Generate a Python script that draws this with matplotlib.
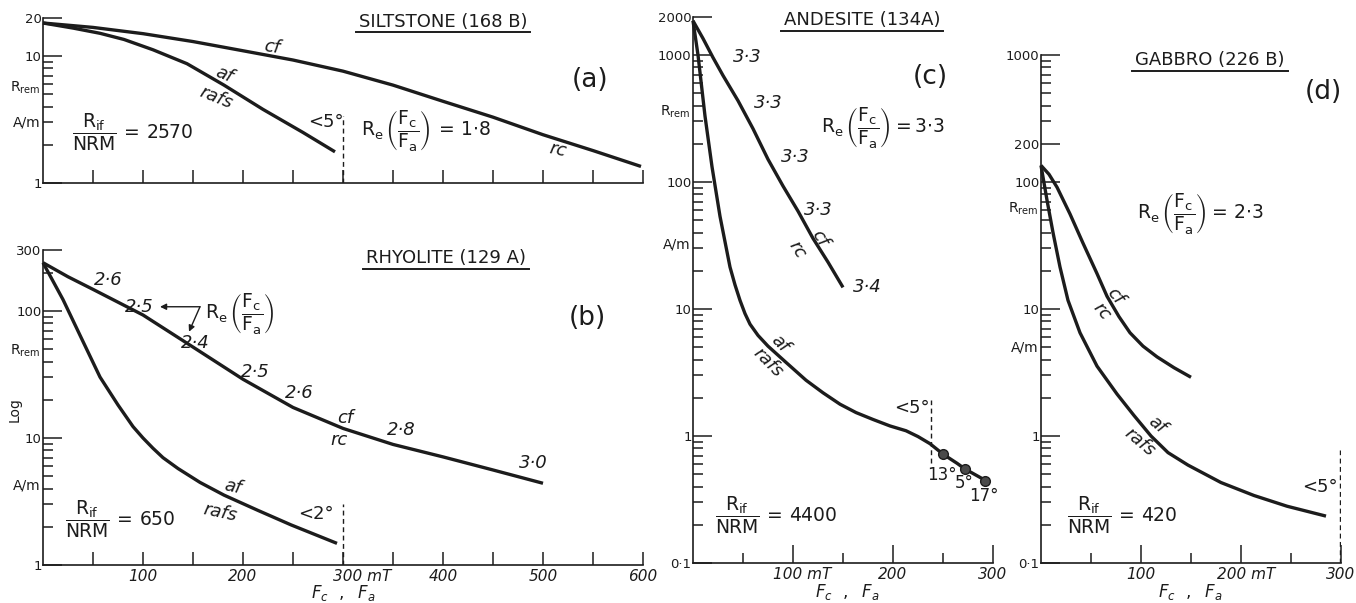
import matplotlib
matplotlib.use('Agg')
import matplotlib.pyplot as plt
import matplotlib.transforms as mtransforms
from matplotlib.lines import Line2D
from matplotlib.ticker import NullFormatter

plt.rcParams['font.family'] = ['DejaVu Sans']
plt.rcParams['mathtext.fontset'] = 'dejavusans'

INK = '#1c1c1c'
W, H, DPI = 1356, 603, 100

# ---------------- data ----------------
# Panel (a) SILTSTONE (168 B)
a_cf_x = [0, 50, 100, 150, 200, 250, 300, 350, 400, 450, 500, 550, 598]
a_cf_y = [18.2, 16.8, 15.0, 13.0, 11.0, 9.3, 7.6, 5.9, 4.4, 3.3, 2.4, 1.8, 1.35]
a_af_x = [0, 30, 57, 81, 110, 144, 181, 220, 260, 292]
a_af_y = [18.2, 16.6, 15.1, 13.5, 11.2, 8.7, 5.9, 3.8, 2.5, 1.76]

# Panel (b) RHYOLITE (129 A)
b_cf_x = [0, 25, 50, 100, 150, 200, 250, 300, 350, 400, 450, 500]
b_cf_y = [240, 186, 148, 93, 52, 29, 17.4, 11.9, 8.9, 7.1, 5.6, 4.4]
b_af_x = [0, 20, 40, 57, 75, 90, 100, 110, 120, 135, 157, 181, 215, 248, 294]
b_af_y = [240, 123, 57.5, 30.2, 18.2, 12.3, 10.0, 8.3, 7.0, 5.75, 4.47, 3.55, 2.69, 2.07, 1.48]
b_re_x = [65, 96, 152, 212.5, 256, 358, 490]
b_re_y = [175, 108, 56, 33, 22.7, 11.6, 6.4]
b_re_labels = ['2·6', '2·5', '2·4', '2·5', '2·6', '2·8', '3·0']

# Panel (c) ANDESITE (134A)
c_cf_x = [0, 10, 20, 30, 45, 60, 75, 90, 105, 120, 135, 150]
c_cf_y = [1860, 1350, 955, 690, 437, 263, 151, 93, 59, 36, 23.4, 14.8]
c_af_x = [0, 5, 12, 19, 27, 37, 42, 47, 52, 57, 65, 75, 93, 113, 130, 147, 163, 180, 197,
          213, 225, 237, 250, 264, 272, 294]
c_af_y = [1860, 1000, 331, 132, 53.7, 21.4, 15.5, 11.7, 9.2, 7.6, 6.2, 5.1, 3.8, 2.75, 2.19,
          1.78, 1.53, 1.35, 1.2, 1.10, 0.99, 0.87, 0.72, 0.61, 0.55, 0.44]
c_dot_x = [250, 272, 292]
c_dot_y = [0.72, 0.55, 0.44]
c_dot_labels = ['13°', '5°', '17°']
c_re_x = [54, 75, 102, 125, 174]
c_re_y = [964, 419, 157, 60, 14.9]
c_re_labels = ['3·3', '3·3', '3·3', '3·3', '3·4']

# Panel (d) GABBRO (226 B)
d_cf_x = [0, 8, 16, 29, 42, 56, 66, 78, 89, 102, 116, 133, 150]
d_cf_y = [135, 115, 91, 56, 33, 19, 12.6, 8.7, 6.5, 5.1, 4.2, 3.45, 2.9]
d_af_x = [0, 6, 12, 19, 27, 39, 56, 76, 93, 110, 127, 147, 180, 213, 246, 285]
d_af_y = [135, 72, 40, 21.4, 11.7, 6.5, 3.55, 2.14, 1.45, 1.0, 0.74, 0.59, 0.43, 0.34, 0.28, 0.234]

# axis ticks / labels
a_yticks, a_yticklabels = [1, 10, 20], ['1', '10', '20']
b_yticks, b_yticklabels = [1, 10, 100, 300], ['1', '10', '100', '300']
c_yticks, c_yticklabels = [0.1, 1, 10, 100, 1000, 2000], ['0·1', '1', '10', '100', '1000', '2000']
d_yticks, d_yticklabels = [0.1, 1, 10, 100, 200, 1000], ['0·1', '1', '10', '100', '200', '1000']
ab_xmajor = [100, 200, 300, 400, 500, 600]
ab_xminor = [50, 150, 250, 350, 450, 550]
b_xticklabels = ['100', '200', '', '400', '500', '600']
cd_xmajor = [100, 200, 300]
cd_xminor = [50, 150, 250]
c_xticklabels = ['', '200', '300']
d_xticklabels = ['100', '', '300']

# ---------------- figure ----------------
fig = plt.figure(figsize=(W / DPI, H / DPI), dpi=DPI)


def make_axes(left, right, top, bottom):
    return fig.add_axes([left / W, 1 - bottom / H, (right - left) / W, (bottom - top) / H])


def minor_log(lo, hi, skip=()):
    vals = []
    dec = lo
    while dec < hi:
        for k in range(2, 10):
            v = k * dec
            if lo < v < hi and round(v, 6) not in skip:
                vals.append(v)
        dec *= 10
    return vals


def style(ax, xmax, ylim, yt, ytl, xmaj, xmin, xtl, xmaj_len, xmin_len, skip=()):
    ax.set_yscale('log')
    ax.set_xlim(0, xmax)
    ax.set_ylim(*ylim)
    ax.patch.set_alpha(0)
    for s in ['top', 'right']:
        ax.spines[s].set_visible(False)
    for s in ['left', 'bottom']:
        ax.spines[s].set_linewidth(1.2)
        ax.spines[s].set_color(INK)
    ax.set_yticks(yt)
    ax.set_yticklabels(ytl)
    ax.set_yticks(minor_log(ylim[0], ylim[1], skip), minor=True)
    ax.yaxis.set_minor_formatter(NullFormatter())
    ax.set_xticks(xmaj)
    ax.set_xticklabels(xtl)
    ax.set_xticks(xmin, minor=True)
    ax.tick_params(axis='both', which='both', direction='in', color=INK, width=1.1,
                   labelcolor=INK)
    ax.tick_params(axis='y', which='major', length=14, pad=1, labelsize=9.5)
    ax.tick_params(axis='y', which='minor', length=7)
    ax.tick_params(axis='x', which='major', length=xmaj_len, pad=3, labelsize=11)
    ax.tick_params(axis='x', which='minor', length=xmin_len)
    for lab in ax.get_xticklabels():
        lab.set_fontstyle('italic')


def ylab(ax, v, s):
    trans = mtransforms.blended_transform_factory(ax.transAxes, ax.transData)
    ax.annotate(s, xy=(0, v), xycoords=trans, xytext=(-1.5, 0), textcoords='offset points',
                ha='right', va='center', fontsize=10, color=INK)


def xlab(ax, x, dy=-20):
    ax.annotate(r'$F_c\ \ ,\ \ F_a$', xy=(x, 0), xycoords=('data', 'axes fraction'),
                xytext=(0, dy), textcoords='offset points', ha='center', va='center',
                fontsize=12, color=INK)


def mt_label(ax, x, s):
    ax.annotate(s, xy=(x, 0), xycoords=('data', 'axes fraction'), xytext=(0, -8.5),
                textcoords='offset points', ha='center', va='center', fontsize=11,
                fontstyle='italic', color=INK)


def txt(ax, x, y, s, size=13, italic=False, rot=0, ha='center', va='center'):
    return ax.text(x, y, s, fontsize=size, fontstyle='italic' if italic else 'normal',
                   rotation=rot, ha=ha, va=va, color=INK, rotation_mode='anchor')


titles = []


def title(ax, x, y, s):
    t = ax.text(x, y, s, fontsize=13, ha='center', va='baseline', color=INK)
    titles.append(t)


LW = 2.4
frac = r'$\dfrac{\mathrm{R}_{\mathrm{if}}}{\mathrm{NRM}}\,=\,%s$'
re_expr = r'$\mathrm{R}_{\mathrm{e}}\,\left(\dfrac{\mathrm{F}_{\mathrm{c}}}{\mathrm{F}_{\mathrm{a}}}\right)%s$'
dash = dict(color=INK, lw=1.0, linestyle=(0, (3.5, 2.5)))

# ---- (a) ----
axa = make_axes(43, 643, 17.8, 183)
style(axa, 600, (1, 20), a_yticks, a_yticklabels, ab_xmajor, ab_xminor,
      [''] * 6, 9.5, 9.5)
axa.plot(a_cf_x, a_cf_y, color=INK, lw=LW, solid_capstyle='butt', clip_on=False)
axa.plot(a_af_x, a_af_y, color=INK, lw=LW, solid_capstyle='butt', clip_on=False)
axa.plot([300, 300], [1, 3.4], **dash)
title(axa, 400, 17.0, 'SILTSTONE (168 B)')
txt(axa, 547, 6.47, '(a)', size=19)
txt(axa, 229, 11.8, 'cf', italic=True, rot=-8)
txt(axa, 181, 7.1, 'af', italic=True, rot=-22)
txt(axa, 173, 4.7, 'rafs', italic=True, rot=-22)
txt(axa, 515, 1.82, 'rc', italic=True, rot=-12)
txt(axa, 283, 3.04, '<5°', size=13)
txt(axa, 383, 2.61, re_expr % r'\,=\,1{\cdot}8', size=13.5)
txt(axa, 90, 2.52, frac % '2570', size=13.5)
ylab(axa, 5.6, r'R$_{\mathrm{rem}}$')
ylab(axa, 3.0, 'A/m')

# ---- (b) ----
axb = make_axes(43, 643, 250.4, 565)
style(axb, 600, (1, 300), b_yticks, b_yticklabels, ab_xmajor, ab_xminor,
      b_xticklabels, 9.5, 9.5)
axb.plot(b_cf_x, b_cf_y, color=INK, lw=LW, solid_capstyle='butt', clip_on=False)
axb.plot(b_af_x, b_af_y, color=INK, lw=LW, solid_capstyle='butt', clip_on=False)
axb.plot([300, 300], [1, 3.0], **dash)
title(axb, 403, 238, 'RHYOLITE (129 A)')
txt(axb, 544, 88, '(b)', size=19)
for x, y, s in zip(b_re_x, b_re_y, b_re_labels):
    txt(axb, x, y, s, italic=True)
txt(axb, 197, 96, re_expr % '', size=13.5)
arrow = dict(arrowstyle='-|>', lw=1.0, color=INK, mutation_scale=9, shrinkA=0, shrinkB=0)
axb.annotate('', xy=(117, 108), xytext=(157, 108), arrowprops=arrow)
axb.annotate('', xy=(146, 68.7), xytext=(157, 108), arrowprops=arrow)
txt(axb, 302, 14.4, 'cf', italic=True)
txt(axb, 296, 9.6, 'rc', italic=True)
txt(axb, 190, 4.1, 'af', italic=True, rot=-12)
txt(axb, 177, 2.6, 'rafs', italic=True, rot=-12)
txt(axb, 273, 2.5, '<2°', size=13)
txt(axb, 77, 2.3, frac % '650', size=13.5)
ylab(axb, 49, r'R$_{\mathrm{rem}}$')
ylab(axb, 4.26, 'A/m')
txt(axb, -28, 16.6, 'Log', size=10, rot=90)
mt_label(axb, 319, '300 mT')
xlab(axb, 300)

# ---- (c) ----
axc = make_axes(693, 993, 16.8, 563)
style(axc, 300, (0.1, 2000), c_yticks, c_yticklabels, cd_xmajor, cd_xminor,
      c_xticklabels, 13, 7)
axc.plot(c_cf_x, c_cf_y, color=INK, lw=LW, solid_capstyle='butt', clip_on=False)
axc.plot(c_af_x, c_af_y, color=INK, lw=LW, solid_capstyle='butt', clip_on=False)
axc.plot(c_dot_x, c_dot_y, 'o', color='#4a4a4a', markersize=7, markeredgecolor=INK)
axc.plot([238, 238], [0.61, 1.92], **dash)
title(axc, 169, 1722, 'ANDESITE (134A)')
txt(axc, 237, 671, '(c)', size=19)
for x, y, s in zip(c_re_x, c_re_y, c_re_labels):
    txt(axc, x, y, s, italic=True)
txt(axc, 190, 271, re_expr % r'=3{\cdot}3', size=13.5)
txt(axc, 127, 36.2, 'cf', italic=True, rot=-58)
txt(axc, 104, 29.2, 'rc', italic=True, rot=-58)
txt(axc, 87, 5.3, 'af', italic=True, rot=-45)
txt(axc, 75, 3.76, 'rafs', italic=True, rot=-45)
txt(axc, 219, 1.66, '<5°', size=13)
for x, y, s in zip(c_dot_x, [0.49, 0.43, 0.337], c_dot_labels):
    txt(axc, x - 1, y, s, size=12)
txt(axc, 83, 0.238, frac % '4400', size=13.5)
ylab(axc, 359, r'R$_{\mathrm{rem}}$')
ylab(axc, 32.5, 'A/m')
mt_label(axc, 109, '100 mT')
xlab(axc, 154, dy=-21)

# ---- (d) ----
axd = make_axes(1041, 1341, 55, 563)
style(axd, 300, (0.1, 1000), d_yticks, d_yticklabels, cd_xmajor, cd_xminor,
      d_xticklabels, 13, 7, skip=(200,))
axd.plot(d_cf_x, d_cf_y, color=INK, lw=LW, solid_capstyle='butt', clip_on=False)
axd.plot(d_af_x, d_af_y, color=INK, lw=LW, solid_capstyle='butt', clip_on=False)
axd.plot([299, 299], [0.1, 0.78], **dash)
title(axd, 169, 834, 'GABBRO (226 B)')
txt(axd, 282, 511, '(d)', size=19)
txt(axd, 159, 57, re_expr % r'=\,2{\cdot}3', size=13.5)
txt(axd, 74, 12.7, 'cf', italic=True, rot=-50)
txt(axd, 61, 9.6, 'rc', italic=True, rot=-50)
txt(axd, 116, 1.22, 'af', italic=True, rot=-40)
txt(axd, 99, 0.9, 'rafs', italic=True, rot=-40)
txt(axd, 279, 0.4, '<5°', size=13)
txt(axd, 81, 0.235, frac % '420', size=13.5)
ylab(axd, 62, r'R$_{\mathrm{rem}}$')
ylab(axd, 5.0, 'A/m')
mt_label(axd, 205, '200 mT')
xlab(axd, 149, dy=-21)

# underline the titles (computed from the rendered text extents)
fig.canvas.draw()
inv = fig.transFigure.inverted()
for t in titles:
    bb = t.get_window_extent()
    base = t.axes.transData.transform(t.get_position())[1]
    yline = base - 5.5
    (fx0, fy), (fx1, _) = inv.transform([(bb.x0 - 3, yline), (bb.x1 + 3, yline)])
    fig.add_artist(Line2D([fx0, fx1], [fy, fy], lw=1.4, color=INK))

fig.savefig('out.png', dpi=DPI, facecolor='white')
